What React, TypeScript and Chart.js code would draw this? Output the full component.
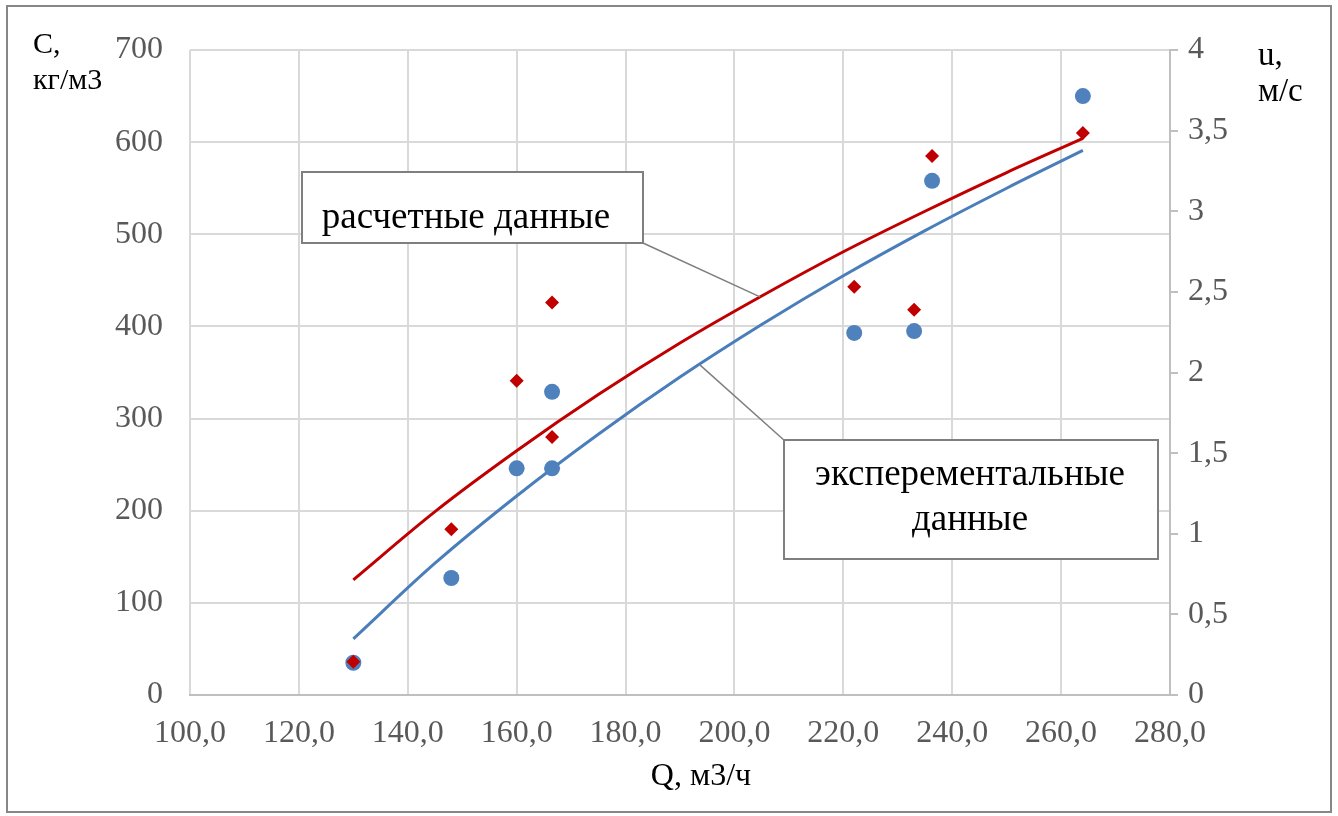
import React, { useEffect, useRef } from "react";
import { Chart, registerables } from "chart.js";

Chart.register(...registerables);

// Experimental / calculated measurement points
const qPoints = [130, 148, 160, 166.5, 166.5, 222, 233, 236.3, 264];
const cExperimental = [35, 127, 246, 329, 246, 393, 395, 558, 650];
const cCalculated = [36, 180, 341, 426, 280, 443, 418, 585, 610];

// Trend lines
const qTrend = [130, 145, 160, 175, 190, 205, 220, 235, 250, 264];
const cTrendCalculated = [125, 199, 265, 326, 382, 433, 481, 525, 567, 604];
const cTrendExperimental = [61, 143, 216, 283, 345, 402, 455, 504, 550, 591];

const labelCalc = "расчетные данные";
const labelExp1 = "эксперементальные";
const labelExp2 = "данные";
const leftTitle = ["C,", "кг/м3"];
const rightTitle = ["u,", "м/с"];
const xTitle = "Q, м3/ч";

const FONT = '"Liberation Serif", "Times New Roman", serif';
const fmt = (v: number, d: number) => v.toFixed(d).replace(".", ",");

const decorPlugin = {
  id: "decor",
  afterDatasetsDraw(chart: any) {
    const ctx = chart.ctx;
    const xs = chart.scales.x;
    const ys = chart.scales.y;
    ctx.save();
    // leader lines
    ctx.strokeStyle = "#7f7f7f";
    ctx.lineWidth = 1.5;
    ctx.beginPath();
    ctx.moveTo(643, 243);
    ctx.lineTo(xs.getPixelForValue(204.7), ys.getPixelForValue(432));
    ctx.moveTo(785, 441);
    ctx.lineTo(xs.getPixelForValue(193.7), ys.getPixelForValue(358));
    ctx.stroke();
    // boxes
    ctx.lineWidth = 2;
    ctx.fillStyle = "#ffffff";
    ctx.fillRect(302, 172, 341, 71);
    ctx.strokeRect(302, 172, 341, 71);
    ctx.fillRect(784, 440, 374, 119);
    ctx.strokeRect(784, 440, 374, 119);
    ctx.fillStyle = "#000000";
    ctx.font = `37px ${FONT}`;
    ctx.textAlign = "center";
    ctx.textBaseline = "alphabetic";
    ctx.fillText(labelCalc, 466, 228);
    ctx.fillText(labelExp1, 970, 485);
    ctx.fillText(labelExp2, 970, 530);
    ctx.restore();
  },
  afterDraw(chart: any) {
    const ctx = chart.ctx;
    ctx.save();
    ctx.fillStyle = "#000000";
    ctx.textAlign = "left";
    ctx.textBaseline = "alphabetic";
    ctx.font = `30px ${FONT}`;
    ctx.fillText(leftTitle[0], 33, 53);
    ctx.fillText(leftTitle[1], 33, 89);
    ctx.font = `33px ${FONT}`;
    ctx.fillText(rightTitle[0], 1258, 65);
    ctx.fillText(rightTitle[1], 1258, 101);
    ctx.textAlign = "center";
    ctx.font = `32px ${FONT}`;
    ctx.fillText(xTitle, 701, 785);
    ctx.strokeStyle = "#878787";
    ctx.lineWidth = 2;
    ctx.strokeRect(7, 6, 1324, 806);
    ctx.restore();
  },
};

export default function App() {
  const ref = useRef<HTMLCanvasElement>(null);
  useEffect(() => {
    document.body.style.margin = "0";
    const toXY = (xs: number[], ys: number[]) => xs.map((x, i) => ({ x, y: ys[i] }));
    const chart = new Chart(ref.current as HTMLCanvasElement, {
      type: "scatter",
      data: {
        datasets: [
          {
            label: "calc points",
            data: toXY(qPoints, cCalculated),
            pointStyle: "rectRot",
            pointRadius: 7,
            backgroundColor: "#c00000",
            borderColor: "#c00000",
            borderWidth: 0,
            showLine: false,
          },
          {
            label: "exp points",
            data: toXY(qPoints, cExperimental),
            pointStyle: "circle",
            pointRadius: 8,
            backgroundColor: "#4f81bd",
            borderColor: "#4f81bd",
            borderWidth: 0,
            showLine: false,
          },
          {
            label: "calc trend",
            data: toXY(qTrend, cTrendCalculated),
            showLine: true,
            pointRadius: 0,
            borderColor: "#c00000",
            borderWidth: 3,
            cubicInterpolationMode: "monotone",
          },
          {
            label: "exp trend",
            data: toXY(qTrend, cTrendExperimental),
            showLine: true,
            pointRadius: 0,
            borderColor: "#4a7ebb",
            borderWidth: 3,
            cubicInterpolationMode: "monotone",
          },
        ],
      } as any,
      options: {
        animation: false,
        responsive: true,
        maintainAspectRatio: false,
        layout: { padding: { top: 50, left: 0, right: 0, bottom: 0 } },
        plugins: { legend: { display: false }, tooltip: { enabled: false } },
        scales: {
          x: {
            type: "linear",
            min: 100,
            max: 280,
            afterFit: (s: any) => {
              s.height = 121;
            },
            ticks: {
              stepSize: 20,
              callback: (v: any) => fmt(Number(v), 1),
              color: "#595959",
              font: { family: FONT, size: 32 },
              padding: 19,
              maxRotation: 0,
              autoSkip: false,
            },
            grid: { color: "#d9d9d9", lineWidth: 2, drawTicks: false },
            border: { color: "#bfbfbf", width: 2 },
          },
          y: {
            position: "left",
            min: 0,
            max: 700,
            afterFit: (s: any) => {
              s.width = 190;
            },
            ticks: {
              stepSize: 100,
              color: "#595959",
              font: { family: FONT, size: 32 },
              padding: 27,
            },
            grid: { color: "#d9d9d9", lineWidth: 2, drawTicks: false },
            border: { display: false },
          },
          y1: {
            position: "right",
            min: 0,
            max: 4,
            afterFit: (s: any) => {
              s.width = 168;
            },
            ticks: {
              stepSize: 0.5,
              callback: (v: any) => fmt(Number(v), Number(v) % 1 === 0 ? 0 : 1),
              color: "#595959",
              font: { family: FONT, size: 32 },
              padding: 10,
            },
            grid: { drawOnChartArea: false, color: "#bfbfbf", lineWidth: 2, tickLength: 8 },
            border: { color: "#bfbfbf", width: 2 },
          },
        },
      } as any,
      plugins: [decorPlugin],
    });
    return () => chart.destroy();
  }, []);
  return (
    <div style={{ width: 1338, height: 816, position: "relative", background: "#fff" }}>
      <canvas ref={ref} />
    </div>
  );
}
